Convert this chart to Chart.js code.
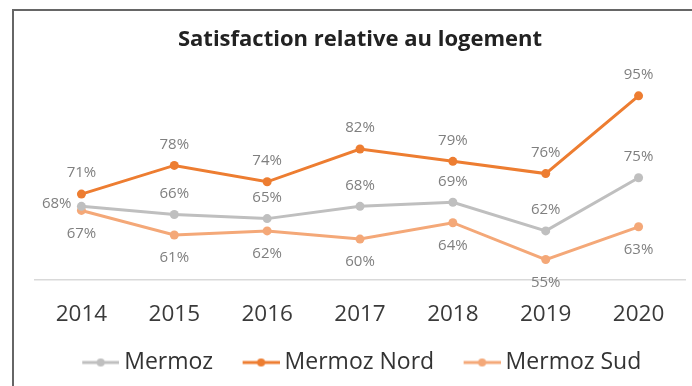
<!DOCTYPE html>
<html>
<head>
<meta charset="utf-8">
<script src="https://cdn.jsdelivr.net/npm/chart.js@4.4.1/dist/chart.umd.min.js"></script>
<style>
  html, body { margin: 0; padding: 0; background: #fff; }
  #wrap { width: 692px; height: 386px; position: relative; }
</style>
</head>
<body>
<div id="wrap"><canvas id="chart" width="692" height="386"></canvas></div>
<script>
const years = ['2014', '2015', '2016', '2017', '2018', '2019', '2020'];
const seriesNames = ['Mermoz', 'Mermoz Nord', 'Mermoz Sud'];
const mermoz = [68, 66, 65, 68, 69, 62, 75];
const mermozNord = [71, 78, 74, 82, 79, 76, 95];
const mermozSud = [67, 61, 62, 60, 64, 55, 63];

const colors = ['#BFBFBF', '#ED7D31', '#F4A878'];

// "line with a dot" swatch for the legend; blank on the left so the
// extra box width acts as spacing between legend items
function legendSwatch(color) {
    const c = document.createElement('canvas');
    c.width = 71;
    c.height = 12;
    const g = c.getContext('2d');
    g.strokeStyle = color;
    g.lineWidth = 3;
    g.beginPath();
    g.moveTo(34, 6);
    g.lineTo(71, 6);
    g.stroke();
    g.fillStyle = color;
    g.beginPath();
    g.arc(52.5, 6, 4, 0, Math.PI * 2);
    g.fill();
    return c;
}

// frame + white background
const framePlugin = {
    id: 'frame',
    beforeDraw(chart) {
        const ctx = chart.ctx;
        ctx.save();
        ctx.fillStyle = '#fff';
        ctx.fillRect(0, 0, chart.width, chart.height);
        ctx.strokeStyle = '#666';
        ctx.lineWidth = 2;
        ctx.beginPath();
        ctx.moveTo(13, chart.height);
        ctx.lineTo(13, 10);
        ctx.lineTo(chart.width, 10);
        ctx.stroke();
        ctx.restore();
    }
};

// the blank lead-in of the swatches pushes the legend right; pull it back
const legendShift = {
    id: 'legendShift',
    afterLayout(chart) {
        chart.legend.left -= 12;
        chart.legend.right -= 12;
    }
};

// value labels next to each point
const valueLabels = {
    id: 'valueLabels',
    afterDatasetsDraw(chart) {
        const ctx = chart.ctx;
        ctx.save();
        ctx.font = '15px "Open Sans"';
        ctx.fillStyle = '#7F7F7F';
        ctx.textBaseline = 'middle';
        chart.data.datasets.forEach((ds, i) => {
            const meta = chart.getDatasetMeta(i);
            meta.data.forEach((pt, j) => {
                const text = ds.data[j] + '%';
                const pos = (ds.labelPos && ds.labelPos[j]) || ds.labelDefault;
                let x = pt.x, y = pt.y;
                ctx.textAlign = 'center';
                if (pos === 'above') y -= 21;
                else if (pos === 'below') y += 23;
                else if (pos === 'left') { x -= 10; y -= 3; ctx.textAlign = 'right'; }
                ctx.fillText(text, x, y);
            });
        });
        ctx.restore();
    }
};

const sets = [mermoz, mermozNord, mermozSud];

new Chart(document.getElementById('chart'), {
    type: 'line',
    data: {
        labels: years,
        datasets: sets.map((values, i) => ({
            label: seriesNames[i],
            data: values,
            borderColor: colors[i],
            backgroundColor: colors[i],
            borderWidth: 3,
            pointRadius: 4.5,
            pointBorderWidth: 0,
            pointStyle: 'circle',
            legendStyle: legendSwatch(colors[i]),
            tension: 0,
            labelDefault: i === 2 ? 'below' : 'above',
            labelPos: i === 0 ? { 0: 'left' } : null
        }))
    },
    options: {
        responsive: false,
        animation: false,
        layout: { padding: { left: 35, right: 7, top: 0, bottom: 2 } },
        scales: {
            x: {
                offset: true,
                grid: { display: false, drawTicks: false },
                border: { display: true, color: '#D9D9D9', width: 1.5 },
                ticks: { color: '#3A3A3A', font: { family: 'Open Sans', size: 22.5 }, padding: 21 }
            },
            y: {
                display: false,
                min: 50,
                max: 100
            }
        },
        plugins: {
            title: {
                display: true,
                text: 'Satisfaction relative au logement',
                color: '#222',
                font: { family: 'Open Sans', size: 22, weight: 'bold' },
                padding: { top: 27, bottom: 22 }
            },
            legend: {
                position: 'bottom',
                labels: {
                    usePointStyle: true,
                    pointStyleWidth: 58,
                    padding: 2,
                    color: '#333',
                    font: { family: 'Open Sans', size: 23 },
                    generateLabels(chart) {
                        return chart.data.datasets.map((ds, i) => ({
                            text: ds.label,
                            pointStyle: ds.legendStyle,
                            fontColor: '#333',
                            lineWidth: 0,
                            strokeStyle: 'transparent',
                            fillStyle: ds.borderColor,
                            datasetIndex: i,
                            hidden: false
                        }));
                    }
                }
            },
            tooltip: { enabled: false }
        }
    },
    plugins: [framePlugin, legendShift, valueLabels]
});
</script>
</body>
</html>
